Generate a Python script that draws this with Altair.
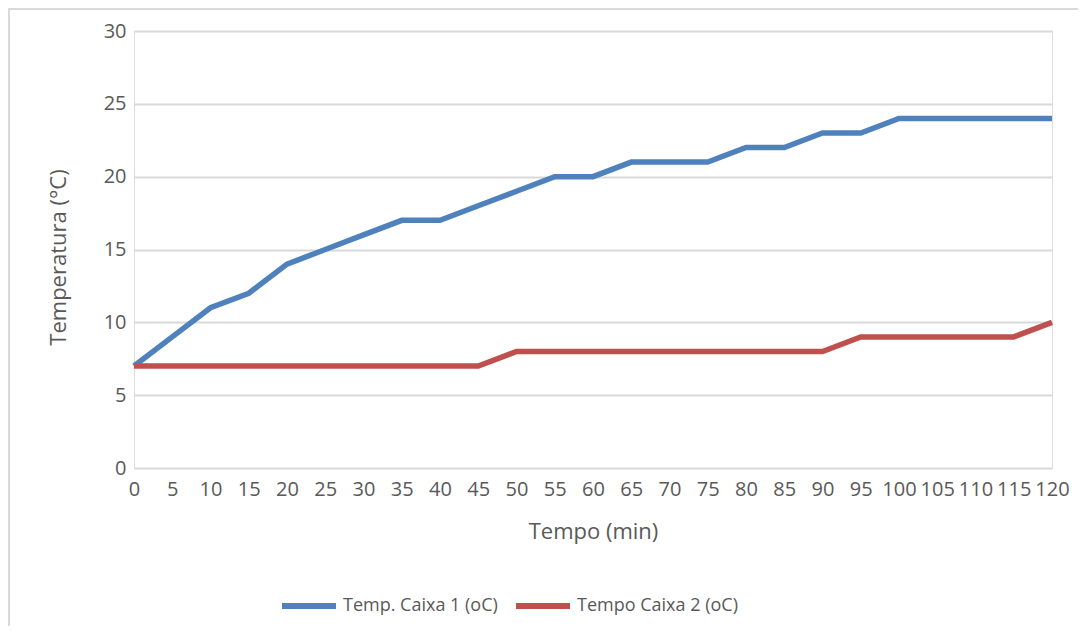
import altair as alt
import pandas as pd

times = list(range(0, 125, 5))
caixa1 = [7, 9, 11, 12, 14, 15, 16, 17, 17, 18, 19, 20, 20, 21, 21, 21, 22, 22, 23, 23, 24, 24, 24, 24, 24]
caixa2 = [7, 7, 7, 7, 7, 7, 7, 7, 7, 7, 8, 8, 8, 8, 8, 8, 8, 8, 8, 9, 9, 9, 9, 9, 10]
series_names = ["Temp. Caixa 1 (oC)", "Tempo Caixa 2 (oC)"]
series_colors = ["#4f81bd", "#c0504d"]
y_ticks = [0, 5, 10, 15, 20, 25, 30]

rows = []
for t, v in zip(times, caixa1):
    rows.append({"tempo": t, "temp": v, "serie": series_names[0]})
for t, v in zip(times, caixa2):
    rows.append({"tempo": t, "temp": v, "serie": series_names[1]})
df = pd.DataFrame(rows)

FONT = "Open Sans"
GRAY = "#595959"

lines = alt.Chart(df).mark_line(strokeWidth=5.5).encode(
    x=alt.X("tempo:Q",
            scale=alt.Scale(domain=[0, 120], nice=False),
            axis=alt.Axis(values=times, title="Tempo (min)", grid=False, ticks=False, tickSize=0,
                          domain=False, labelFlush=False, labelOverlap=False, labelAngle=0,
                          labelPadding=11, labelFontSize=20, labelColor=GRAY, labelFont=FONT,
                          titleFontSize=22, titleFontWeight="normal", titleColor=GRAY, titleFont=FONT,
                          titleBaseline="alphabetic", titleY=70)),
    y=alt.Y("temp:Q",
            scale=alt.Scale(domain=[0, 30], nice=False),
            axis=alt.Axis(values=y_ticks, title="Temperatura (°C)", grid=True, gridColor="#d9d9d9",
                          gridWidth=2, ticks=False, tickSize=0, domain=False,
                          labelPadding=8, labelFontSize=20, labelColor=GRAY, labelFont=FONT,
                          titleFontSize=22, titleFontWeight="normal", titleColor=GRAY, titleFont=FONT,
                          titleAngle=270, titleBaseline="alphabetic", titleAlign="center",
                          titleX=-69, titleY=226)),
    color=alt.Color("serie:N",
                    scale=alt.Scale(domain=series_names, range=series_colors),
                    legend=alt.Legend(title=None, orient="none", direction="horizontal",
                                      legendX=145, legendY=545, padding=0,
                                      symbolType="stroke", symbolSize=2916, symbolStrokeWidth=6,
                                      labelFontSize=18, labelColor=GRAY, labelFont=FONT,
                                      labelLimit=400, labelOffset=4, columnPadding=6)),
)

border = alt.Chart(pd.DataFrame({"a": [0]})).mark_rect(
    fillOpacity=0, stroke="#d9d9d9", strokeWidth=2
).encode(x=alt.value(-125), x2=alt.value(1300), y=alt.value(-22), y2=alt.value(900))

chart = alt.layer(border, lines).properties(
    width=918, height=437,
    autosize=alt.AutoSizeParams(type="none"),
    padding={"left": 126, "top": 23, "right": 26, "bottom": 158},
).configure_view(strokeOpacity=0).configure(background="white")

chart.save("out.html", embed_options={"renderer": "svg", "actions": False})
